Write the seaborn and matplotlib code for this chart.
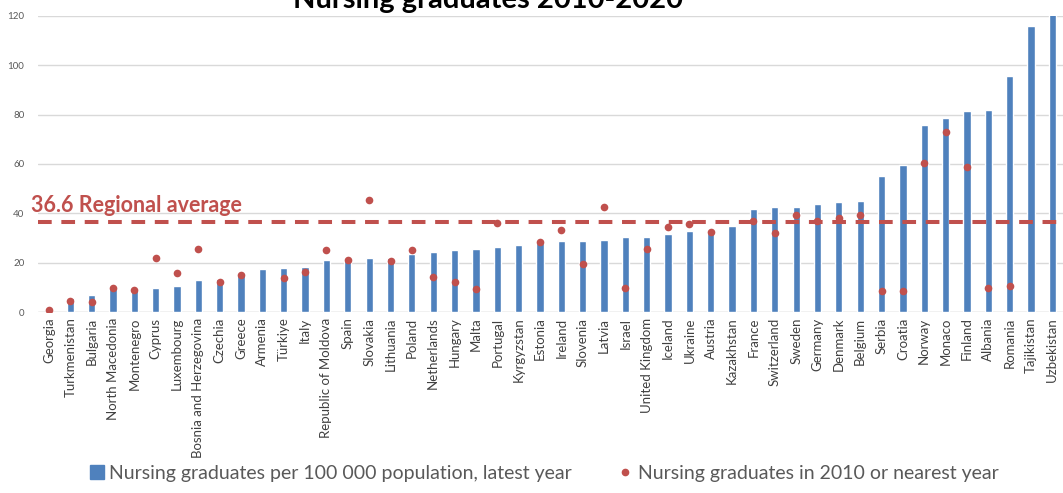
import matplotlib

matplotlib.use("Agg")
import matplotlib.pyplot as plt
import pandas as pd
import seaborn as sns
from matplotlib.lines import Line2D

countries = [
    "Georgia", "Turkmenistan", "Bulgaria", "North Macedonia", "Montenegro",
    "Cyprus", "Luxembourg", "Bosnia and Herzegovina", "Czechia", "Greece",
    "Armenia", "Türkiye", "Italy", "Republic of Moldova", "Spain", "Slovakia",
    "Lithuania", "Poland", "Netherlands", "Hungary", "Malta", "Portugal",
    "Kyrgyzstan", "Estonia", "Ireland", "Slovenia", "Latvia", "Israel",
    "United Kingdom", "Iceland", "Ukraine", "Austria", "Kazakhstan", "France",
    "Switzerland", "Sweden", "Germany", "Denmark", "Belgium", "Serbia",
    "Croatia", "Norway", "Monaco", "Finland", "Albania", "Romania",
    "Tajikistan", "Uzbekistan",
]
latest = [
    0.0, 5.9, 6.9, 9.4, 9.4, 9.7, 10.5, 13.0, 13.3, 15.3,
    17.5, 17.9, 18.3, 21.1, 21.3, 21.7, 21.7, 23.5, 24.4, 25.0,
    25.5, 26.3, 27.0, 27.8, 28.9, 28.9, 29.3, 30.6, 30.6, 31.7,
    32.9, 32.7, 34.8, 41.8, 42.7, 42.7, 43.7, 44.4, 44.8, 55.1,
    59.5, 75.6, 78.4, 81.5, 81.9, 95.7, 115.8, 121.0,
]
year_2010 = [
    0.8, 4.6, 4.2, 9.6, 8.9, 22.1, 15.9, 25.5, 12.0, 15.0,
    None, 13.6, 16.3, 25.1, 21.2, 45.2, 20.5, 25.1, 14.4, 12.2,
    9.2, 35.9, None, 28.5, 33.1, 19.4, 42.4, 9.7, 25.6, 34.6,
    35.6, 32.5, None, 37.0, 32.1, 39.3, 36.7, 38.2, 39.3, 8.6,
    8.5, 60.5, 72.9, 58.6, 9.7, 10.7, None, None,
]
regional_average = 36.6

BLUE = "#4F81BD"
RED = "#C0504D"

df = pd.DataFrame({"country": countries, "latest": latest, "y2010": year_2010})

sns.set_theme(style="white")
plt.rcParams["font.family"] = ["Lato", "DejaVu Sans"]

fig = plt.figure(figsize=(10.63, 4.93), dpi=100)
ax = fig.add_axes([0.036, 0.367, 0.964, 0.601])

sns.barplot(data=df, x="country", y="latest", order=countries, color=BLUE,
            width=0.34, saturation=1, ax=ax, zorder=2)
sns.stripplot(data=df.dropna(), x="country", y="y2010", order=countries,
              color=RED, jitter=False, size=5.5, linewidth=0, ax=ax, zorder=3)

# regional average line and its label
ax.axhline(regional_average, color=RED, linestyle=(0, (3.4, 2.4)),
           linewidth=2.9, zorder=4)
ax.text(-0.82, regional_average + 2.2, f"{regional_average} Regional average",
        color=RED, fontsize=15.5, fontweight="bold", ha="left", va="bottom",
        zorder=5)

ax.set_xlim(-0.5, 47.5)
ax.set_ylim(0, 120)
ax.set_yticks(range(0, 121, 20))
ax.yaxis.grid(True, color="#d9d9d9", linewidth=1)
ax.set_axisbelow(True)
for side in ["top", "right", "left", "bottom"]:
    ax.spines[side].set_visible(False)
ax.axhline(0, color="#d9d9d9", linewidth=1, zorder=1)
ax.set_xlabel("")
ax.set_ylabel("")
ax.tick_params(axis="y", labelsize=7, labelcolor="#595959", length=0, pad=10)
ax.tick_params(axis="x", labelsize=9.5, labelcolor="#404040", length=0,
               pad=4, rotation=90)

fig.text(0.459, 0.984, "Nursing graduates 2010-2020", ha="center",
         va="baseline", fontsize=21, fontweight="bold", color="black")

handles = [
    Line2D([], [], marker="s", linestyle="none", color=BLUE, markersize=10),
    Line2D([], [], marker="o", linestyle="none", color=RED, markersize=4.5),
]
labels = [
    "Nursing graduates per 100 000 population, latest year",
    "Nursing graduates in 2010 or nearest year",
]
fig.legend(handles, labels, loc="center", bbox_to_anchor=(0.512, 0.04),
           ncol=2, frameon=False, fontsize=14, handlelength=0.7,
           handletextpad=0.3, columnspacing=2.4, labelcolor="#595959")

fig.savefig("out.png", dpi=100)
